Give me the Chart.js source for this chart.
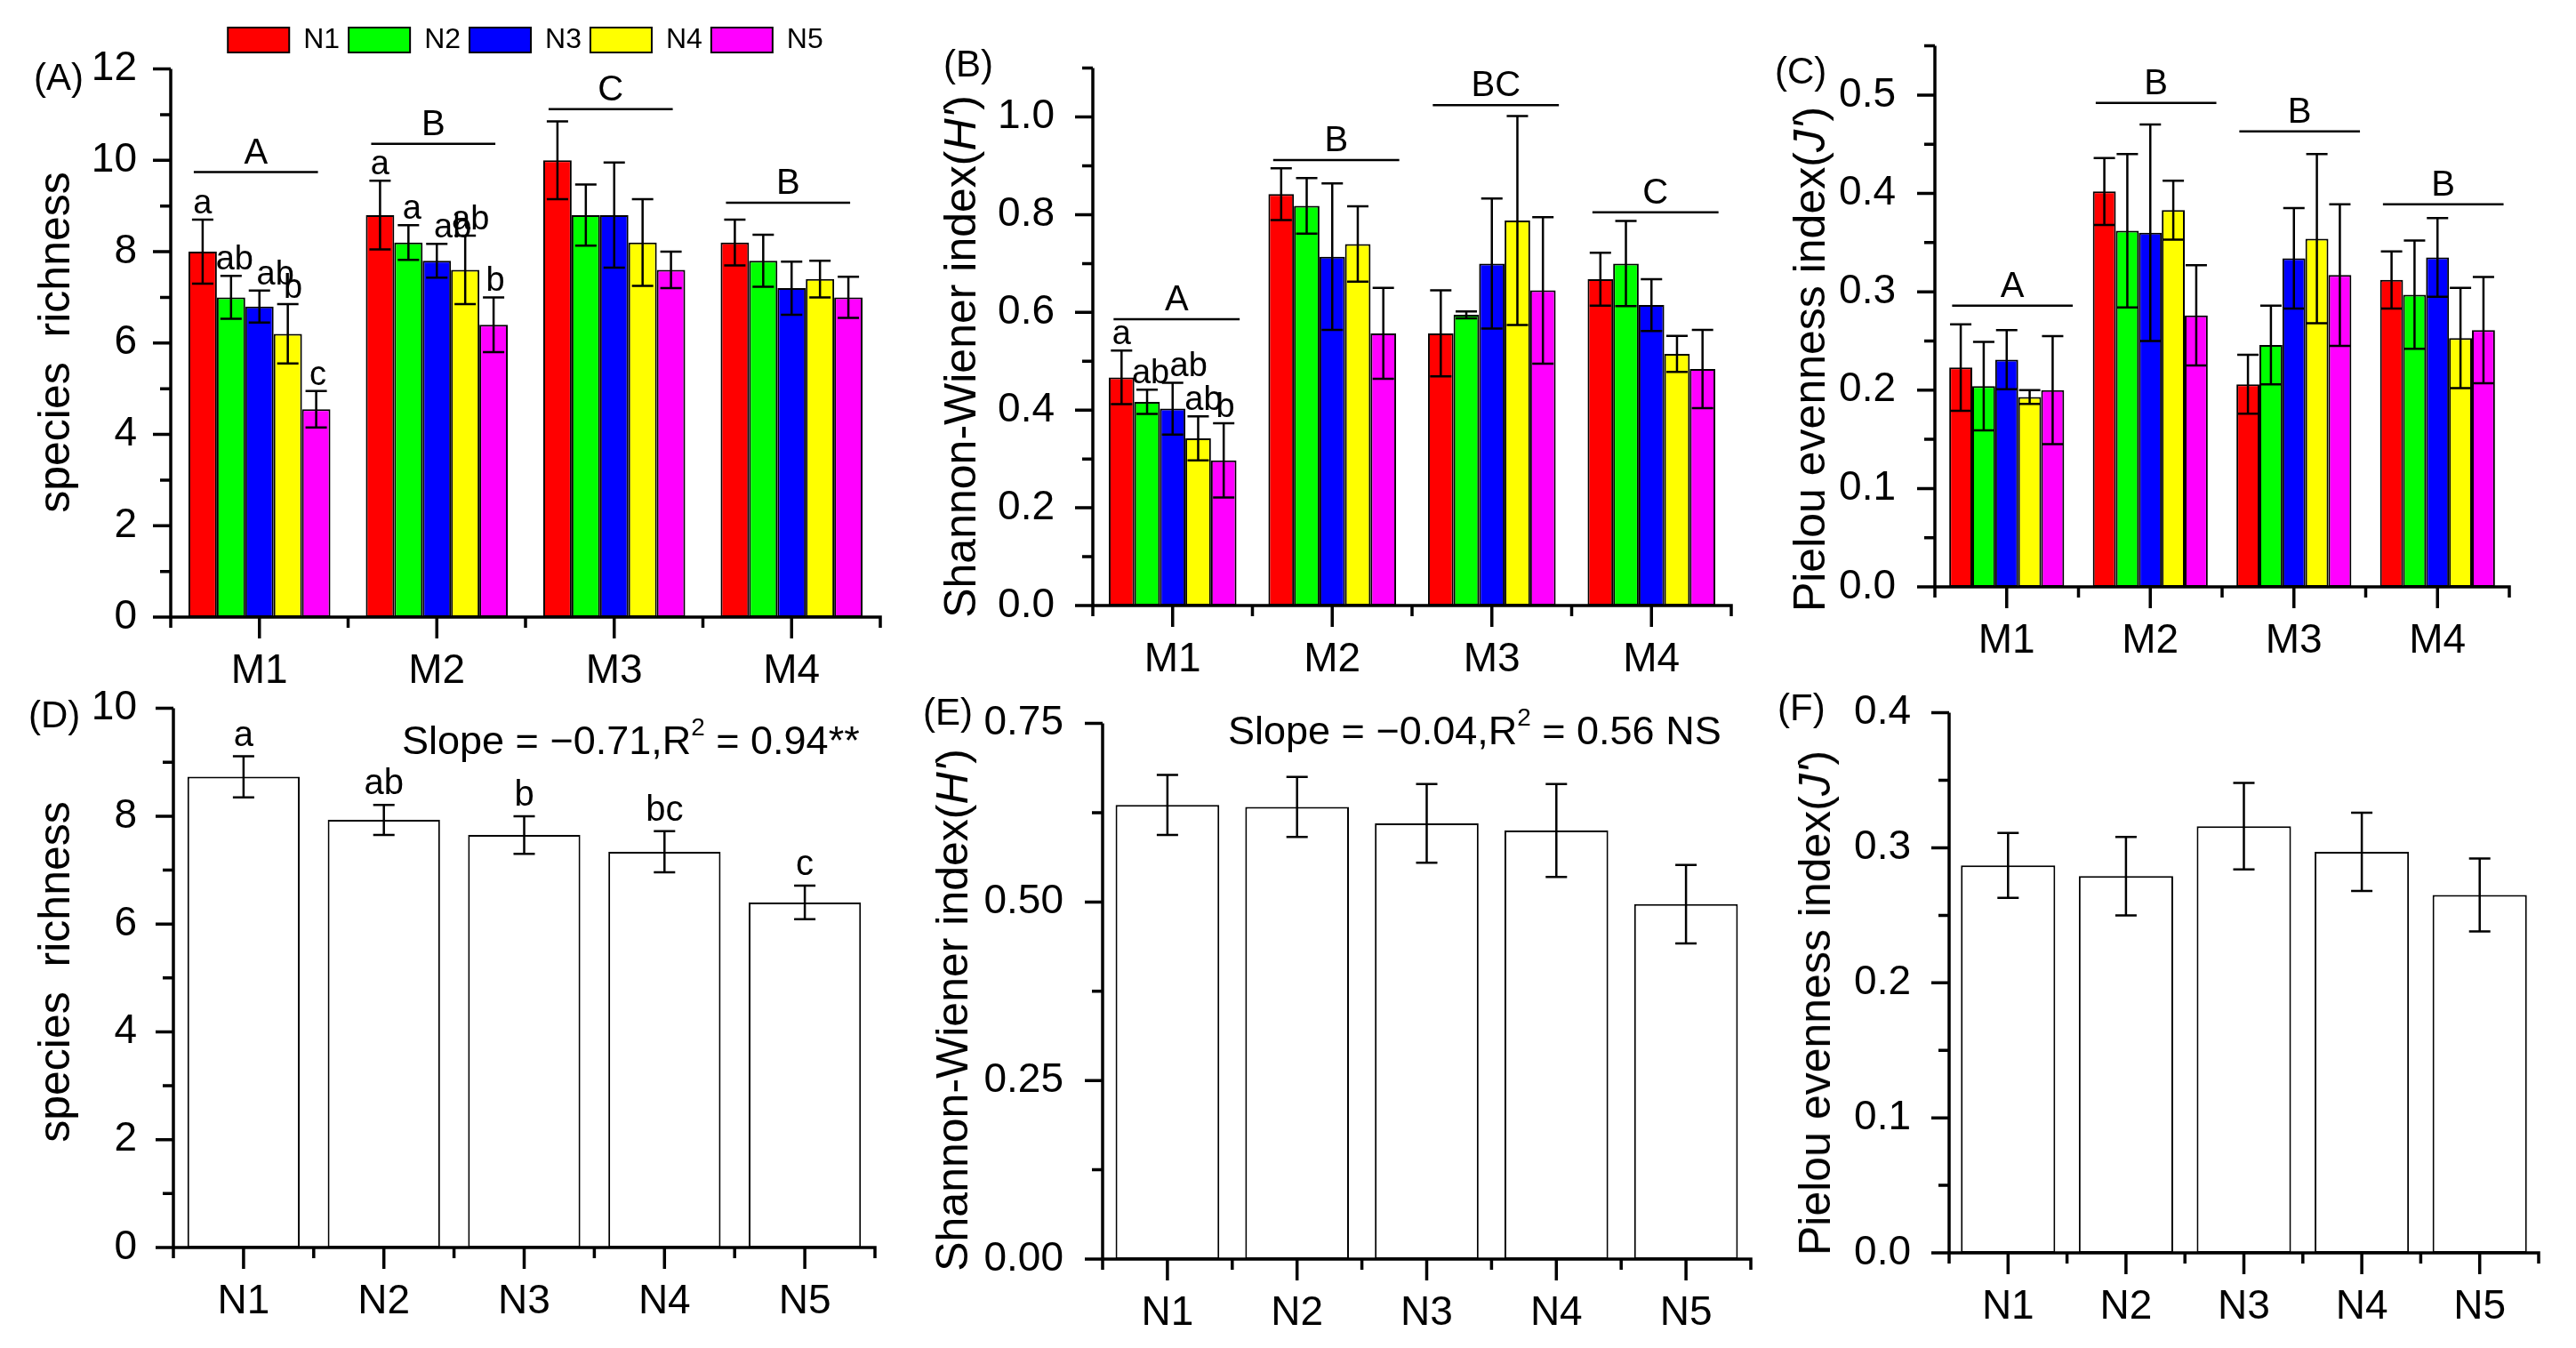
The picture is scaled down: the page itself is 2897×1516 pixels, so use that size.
<!DOCTYPE html>
<html>
<head>
<meta charset="utf-8">
<script src="https://cdn.jsdelivr.net/npm/chart.js@4.4.1/dist/chart.umd.min.js"></script>
<style>
  html, body { margin: 0; padding: 0; background: #fff; }
  #page { position: relative; width: 2897px; height: 1516px; overflow: hidden; background: #fff;
          font-family: "Liberation Sans", Arial, Helvetica, sans-serif; color: #000; }
  canvas { position: absolute; }
  .note { position: absolute; white-space: nowrap; line-height: 1; transform: translateY(-50%); }
  .note sup { font-size: 0.62em; line-height: 0; vertical-align: 0.72em; }
  .vt { position: absolute; white-space: pre; line-height: 1;
        transform: translate(-50%, -50%) rotate(-90deg); }
</style>
</head>
<body>
<div id="page"></div>
<script>
// categories
const mGroups = ['M1', 'M2', 'M3', 'M4'];
const nLevels = ['N1', 'N2', 'N3', 'N4', 'N5'];

// (A) species richness, per N level across M1..M4
const richN1 = [8.0, 8.8, 10.0, 8.2];
const richN2 = [7.0, 8.2, 8.8, 7.8];
const richN3 = [6.8, 7.8, 8.8, 7.2];
const richN4 = [6.2, 7.6, 8.2, 7.4];
const richN5 = [4.55, 6.4, 7.6, 7.0];
const richErrN1 = [0.70, 0.75, 0.85, 0.50];
const richErrN2 = [0.47, 0.38, 0.67, 0.57];
const richErrN3 = [0.35, 0.37, 1.15, 0.58];
const richErrN4 = [0.65, 0.75, 0.95, 0.40];
const richErrN5 = [0.40, 0.60, 0.40, 0.45];
const richLetN1 = ['a', 'a', '', ''];
const richLetN2 = ['ab', 'a', '', ''];
const richLetN3 = ['ab', 'ab', '', ''];
const richLetN4 = ['b', 'ab', '', ''];
const richLetN5 = ['c', 'b', '', ''];
const richGroupLet = ['A', 'B', 'C', 'B'];
const richGroupAt = [9.74, 10.36, 11.12, 9.07];

// (B) Shannon-Wiener
const shanN1 = [0.467, 0.842, 0.557, 0.668];
const shanN2 = [0.417, 0.818, 0.595, 0.700];
const shanN3 = [0.403, 0.714, 0.700, 0.615];
const shanN4 = [0.342, 0.740, 0.788, 0.515];
const shanN5 = [0.297, 0.557, 0.645, 0.484];
const shanErrN1 = [0.055, 0.053, 0.088, 0.054];
const shanErrN2 = [0.025, 0.057, 0.007, 0.087];
const shanErrN3 = [0.053, 0.150, 0.133, 0.053];
const shanErrN4 = [0.045, 0.077, 0.214, 0.037];
const shanErrN5 = [0.076, 0.093, 0.150, 0.080];
const shanLetN1 = ['a', '', '', ''];
const shanLetN2 = ['ab', '', '', ''];
const shanLetN3 = ['ab', '', '', ''];
const shanLetN4 = ['ab', '', '', ''];
const shanLetN5 = ['b', '', '', ''];
const shanGroupLet = ['A', 'B', 'BC', 'C'];
const shanGroupAt = [0.586, 0.912, 1.024, 0.805];

// (C) Pielou evenness
const pielN1 = [0.223, 0.402, 0.206, 0.312];
const pielN2 = [0.204, 0.362, 0.246, 0.297];
const pielN3 = [0.231, 0.360, 0.334, 0.335];
const pielN4 = [0.193, 0.383, 0.354, 0.253];
const pielN5 = [0.200, 0.276, 0.317, 0.261];
const pielErrN1 = [0.044, 0.034, 0.030, 0.029];
const pielErrN2 = [0.045, 0.078, 0.040, 0.055];
const pielErrN3 = [0.030, 0.110, 0.051, 0.040];
const pielErrN4 = [0.007, 0.030, 0.086, 0.051];
const pielErrN5 = [0.055, 0.051, 0.072, 0.054];
const pielGroupLet = ['A', 'B', 'B', 'B'];
const pielGroupAt = [0.286, 0.492, 0.463, 0.389];

// (D)-(F) means per N level
const richMean = [8.73, 7.93, 7.65, 7.34, 6.40];
const richMeanErr = [0.38, 0.28, 0.35, 0.38, 0.31];
const richMeanLet = ['a', 'ab', 'b', 'bc', 'c'];
const shanMean = [0.636, 0.633, 0.610, 0.600, 0.497];
const shanMeanErr = [0.042, 0.042, 0.055, 0.065, 0.055];
const pielMean = [0.287, 0.279, 0.316, 0.297, 0.265];
const pielMeanErr = [0.024, 0.029, 0.032, 0.029, 0.027];

const FONT = '"Liberation Sans", Arial, Helvetica, sans-serif';
const nColors = ['#ff0000', '#00ff00', '#0000ff', '#ffff00', '#ff00ff'];
const AXIS_W = 3.5;
const CAP = 12;
const LETTER_DX = [0, 4, 18, 6, 2];   // stagger crowded letters in grouped panels

Chart.defaults.font.family = FONT;
Chart.defaults.color = '#000';

const page = document.getElementById('page');

function decor(p) {
  return {
    id: 'decor',
    afterDatasetsDraw(chart) {
      const { ctx } = chart;
      const x = chart.scales.x, y = chart.scales.y;
      ctx.save();
      ctx.strokeStyle = '#000';
      ctx.fillStyle = '#000';
      ctx.lineWidth = 2.5;
      // error bars + significance letters
      chart.data.datasets.forEach((ds, di) => {
        chart.getDatasetMeta(di).data.forEach((bar, i) => {
          const v = ds.data[i], e = p.errs[di][i];
          const yt = y.getPixelForValue(v + e), yb = y.getPixelForValue(v - e);
          ctx.beginPath();
          ctx.moveTo(bar.x, yt); ctx.lineTo(bar.x, yb);
          ctx.moveTo(bar.x - CAP, yt); ctx.lineTo(bar.x + CAP, yt);
          ctx.moveTo(bar.x - CAP, yb); ctx.lineTo(bar.x + CAP, yb);
          ctx.stroke();
          const t = p.letters && p.letters[di] ? p.letters[di][i] : '';
          if (t) {
            ctx.font = p.letterSize + 'px ' + FONT;
            ctx.textAlign = 'center';
            ctx.textBaseline = 'alphabetic';
            const dx = p.series.length > 1 ? LETTER_DX[di] : 0;
            ctx.fillText(t, bar.x + dx, yt - p.letterGap);
          }
        });
      });
      // group lines with letters
      if (p.groupAt) {
        ctx.font = '40px ' + FONT;
        ctx.textAlign = 'center';
        ctx.textBaseline = 'alphabetic';
        p.groupAt.forEach((gv, gi) => {
          const x1 = x.getPixelForValue(gi + p.lineFrom), x2 = x.getPixelForValue(gi + p.lineTo);
          const py = y.getPixelForValue(gv);
          ctx.beginPath();
          ctx.moveTo(x1, py); ctx.lineTo(x2, py);
          ctx.stroke();
          ctx.fillText(p.groupLet[gi], (x1 + x2) / 2, py - 10);
        });
      }
      ctx.restore();
    },
    afterDraw(chart) {
      const { ctx, chartArea: ca } = chart;
      const x = chart.scales.x, y = chart.scales.y;
      const y0 = y.getPixelForValue(0), yTop = y.getPixelForValue(p.yMax);
      ctx.save();
      ctx.strokeStyle = '#000';
      ctx.lineWidth = AXIS_W;
      ctx.beginPath();
      ctx.moveTo(ca.left, yTop); ctx.lineTo(ca.left, y0 + AXIS_W / 2);
      ctx.moveTo(ca.left, y0); ctx.lineTo(ca.right + AXIS_W / 2, y0);
      // y ticks, major + minor
      const n = Math.round(p.yMax / p.minor);
      for (let k = 0; k <= n; k++) {
        const v = k * p.minor;
        const major = Math.abs(v / p.step - Math.round(v / p.step)) < 1e-6;
        const py = y.getPixelForValue(v);
        ctx.moveTo(ca.left - (major ? 20 : 12), py); ctx.lineTo(ca.left, py);
      }
      // x ticks: long at centres, short at boundaries
      const m = chart.data.labels.length;
      for (let i = 0; i < m; i++) {
        const px = x.getPixelForValue(i);
        ctx.moveTo(px, y0); ctx.lineTo(px, y0 + 24);
      }
      for (let i = 0; i <= m; i++) {
        const px = x.getPixelForValue(i - 0.5);
        ctx.moveTo(px, y0); ctx.lineTo(px, y0 + 12);
      }
      ctx.stroke();
      ctx.restore();
    }
  };
}

function makePanel(p) {
  const W = 220, H = 130, padR = 25;
  const legendH = p.legend ? 58.5 : 0;
  const lpt = p.legend ? 19 : 60;
  const ctop = p.box.t - lpt - legendH;
  const cw = Math.round(p.box.r - p.box.l + W + padR);
  const ch = Math.round(p.box.b - ctop + H);
  const cv = document.createElement('canvas');
  cv.width = cw; cv.height = ch;
  cv.style.left = (p.box.l - W) + 'px';
  cv.style.top = ctop + 'px';
  cv.style.width = cw + 'px';
  cv.style.height = ch + 'px';
  page.appendChild(cv);

  const datasets = p.series.map((vals, di) => ({
    label: p.names[di],
    data: vals,
    backgroundColor: p.fills[di],
    borderColor: '#000',
    borderWidth: 2,
    borderSkipped: false,
    categoryPercentage: 0.8,
    barPercentage: 1.0
  }));

  const chart = new Chart(cv, {
    type: 'bar',
    data: { labels: p.labels, datasets },
    options: {
      responsive: false,
      animation: false,
      events: [],
      layout: { padding: { left: 0, right: padR, top: lpt, bottom: 0 } },
      plugins: {
        legend: p.legend ? {
          display: true, position: 'top', fullSize: false, align: 'center',
          labels: { boxWidth: 69, boxHeight: 28, padding: 10, color: '#000', font: { size: 32 } }
        } : { display: false },
        tooltip: { enabled: false }
      },
      scales: {
        x: {
          grid: { display: false, drawTicks: false },
          border: { display: false },
          ticks: { font: { size: 46 }, color: '#000', padding: 34, maxRotation: 0, autoSkip: false },
          afterFit: s => { s.height = H; }
        },
        y: {
          min: 0, max: p.yMax,
          grid: { display: false, drawTicks: false },
          border: { display: false },
          ticks: {
            stepSize: p.step, includeBounds: false, font: { size: 46 }, color: '#000',
            padding: p.tickGap, callback: v => Number(v).toFixed(p.dec)
          },
          title: { display: false },
          afterFit: s => { s.width = W; }
        }
      }
    },
    plugins: [decor(p)]
  });

  if (p.legend) {
    // make the legend box a bit taller so the swatches sit higher above the plot
    const lg = chart.legend, fit = lg.fit;
    lg.fit = function () { fit.apply(this, arguments); this.height += legendH - 52; };
    chart.update();
  }

  // rotated y-axis title
  const t = document.createElement('div');
  t.className = 'vt';
  t.style.left = p.titleX + 'px';
  t.style.top = p.titleY + 'px';
  t.style.fontSize = p.titleSize + 'px';
  t.innerHTML = p.title;
  page.appendChild(t);
  return chart;
}

function note(html, x, cy, size) {
  const d = document.createElement('div');
  d.className = 'note';
  d.style.left = x + 'px';
  d.style.top = cy + 'px';
  d.style.fontSize = size + 'px';
  d.innerHTML = html;
  page.appendChild(d);
}

const TITLE_RICH = 'species  richness';
const TITLE_SHAN = "Shannon-Wiener index(<i>H'</i>)";
const TITLE_PIEL = "Pielou evenness index(<i>J'</i>)";

makePanel({
  box: { l: 192, t: 77.5, r: 990, b: 694 }, legend: true,
  labels: mGroups, names: nLevels, fills: nColors,
  series: [richN1, richN2, richN3, richN4, richN5],
  errs: [richErrN1, richErrN2, richErrN3, richErrN4, richErrN5],
  letters: [richLetN1, richLetN2, richLetN3, richLetN4, richLetN5], letterSize: 38, letterGap: 7,
  groupLet: richGroupLet, groupAt: richGroupAt, lineFrom: -0.37, lineTo: 0.33,
  yMax: 12, step: 2, minor: 1, dec: 0, tickGap: 38,
  title: TITLE_RICH, titleSize: 50, titleX: 61, titleY: 385
});

makePanel({
  box: { l: 1229, t: 66, r: 1947, b: 681 },
  labels: mGroups, names: nLevels, fills: nColors,
  series: [shanN1, shanN2, shanN3, shanN4, shanN5],
  errs: [shanErrN1, shanErrN2, shanErrN3, shanErrN4, shanErrN5],
  letters: [shanLetN1, shanLetN2, shanLetN3, shanLetN4, shanLetN5], letterSize: 38, letterGap: 7,
  groupLet: shanGroupLet, groupAt: shanGroupAt, lineFrom: -0.37, lineTo: 0.42,
  yMax: 1.1, step: 0.2, minor: 0.1, dec: 1, tickGap: 43,
  title: TITLE_SHAN, titleSize: 50, titleX: 1080, titleY: 401
});

makePanel({
  box: { l: 2176, t: 40, r: 2822, b: 660 },
  labels: mGroups, names: nLevels, fills: nColors,
  series: [pielN1, pielN2, pielN3, pielN4, pielN5],
  errs: [pielErrN1, pielErrN2, pielErrN3, pielErrN4, pielErrN5],
  groupLet: pielGroupLet, groupAt: pielGroupAt, lineFrom: -0.38, lineTo: 0.46,
  yMax: 0.55, step: 0.1, minor: 0.05, dec: 1, tickGap: 44,
  title: TITLE_PIEL, titleSize: 50, titleX: 2035, titleY: 404
});

makePanel({
  box: { l: 195, t: 788, r: 984, b: 1403 },
  labels: nLevels, names: ['richness'], fills: ['#ffffff'],
  series: [richMean], errs: [richMeanErr],
  letters: [richMeanLet], letterSize: 40, letterGap: 12,
  yMax: 10, step: 2, minor: 1, dec: 0, tickGap: 41,
  title: TITLE_RICH, titleSize: 50, titleX: 61, titleY: 1093
});

makePanel({
  box: { l: 1240, t: 802, r: 1969, b: 1416 },
  labels: nLevels, names: ['Shannon'], fills: ['#ffffff'],
  series: [shanMean], errs: [shanMeanErr],
  yMax: 0.75, step: 0.25, minor: 0.125, dec: 2, tickGap: 44,
  title: TITLE_SHAN, titleSize: 50, titleX: 1071, titleY: 1136
});

makePanel({
  box: { l: 2192, t: 791, r: 2855, b: 1409 },
  labels: nLevels, names: ['Pielou'], fills: ['#ffffff'],
  series: [pielMean], errs: [pielMeanErr],
  yMax: 0.4, step: 0.1, minor: 0.05, dec: 1, tickGap: 43,
  title: TITLE_PIEL, titleSize: 50, titleX: 2041, titleY: 1128
});

// panel tags and regression notes
note('(A)', 38, 87, 42);
note('(B)', 1061, 72, 42);
note('(C)', 1996, 80, 42);
note('(D)', 32, 804, 42);
note('(E)', 1038, 801, 42);
note('(F)', 1999, 796, 42);
note('Slope = &minus;0.71,R<sup>2</sup> = 0.94**', 452, 832, 45);
note('Slope = &minus;0.04,R<sup>2</sup> = 0.56 NS', 1381, 821, 45);
</script>
</body>
</html>
